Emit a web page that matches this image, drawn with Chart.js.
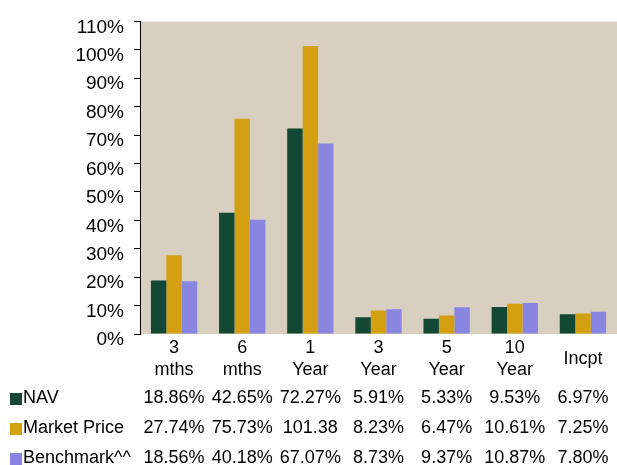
<!DOCTYPE html>
<html lang="en">
<head>
    <meta charset="UTF-8">
    <title>Performance</title>
    <script src="https://cdn.jsdelivr.net/npm/chart.js"></script>
    <style>
        body {
            margin: 0;
            background: #fff;
        }
        #wrap {
            width: 617px;
            height: 465px;
        }
    </style>
</head>
<body>
    <div id="wrap"><canvas id="perfChart" width="617" height="465"></canvas></div>
    <script>
        const periods = [['3', 'mths'], ['6', 'mths'], ['1', 'Year'], ['3', 'Year'], ['5', 'Year'], ['10', 'Year'], 'Incpt'];
        const seriesNames = ['NAV', 'Market Price', 'Benchmark^^'];
        const nav = [18.86, 42.65, 72.27, 5.91, 5.33, 9.53, 6.97];
        const marketPrice = [27.74, 75.73, 101.38, 8.23, 6.47, 10.61, 7.25];
        const benchmark = [18.56, 40.18, 67.07, 8.73, 9.37, 10.87, 7.80];
        const yTicks = [0, 10, 20, 30, 40, 50, 60, 70, 80, 90, 100, 110];

        const colors = ['#134834', '#D4A012', '#8886E0'];
        const FONT = 'Arial, "Liberation Sans", sans-serif';

        // tan plot background
        const plotBg = {
            id: 'plotBg',
            beforeDraw(chart) {
                const a = chart.chartArea;
                const ctx = chart.ctx;
                ctx.save();
                ctx.fillStyle = '#D9CFC1';
                ctx.fillRect(a.left, a.top, a.right - a.left, a.bottom - a.top);
                ctx.restore();
            }
        };

        // data table under the x axis, with legend swatches
        const dataTable = {
            id: 'dataTable',
            afterDraw(chart) {
                const ctx = chart.ctx;
                const x = chart.scales.x;
                const rowsY = [398, 428, 458];
                ctx.save();
                ctx.font = '18px ' + FONT;
                ctx.textBaseline = 'middle';
                chart.data.datasets.forEach((ds, i) => {
                    const y = rowsY[i];
                    ctx.fillStyle = ds.backgroundColor;
                    ctx.fillRect(10, y - 5, 12, 12);
                    ctx.fillStyle = '#000';
                    ctx.textAlign = 'left';
                    ctx.fillText(ds.label, 23, y);
                    const colW = x.getPixelForValue(1) - x.getPixelForValue(0);
                    ds.data.forEach((v, j) => {
                        let txt = v.toFixed(2) + '%';
                        if (ctx.measureText(txt).width > colW - 2) txt = v.toFixed(2);
                        ctx.textAlign = 'center';
                        ctx.fillText(txt, x.getPixelForValue(j), y);
                    });
                });
                ctx.restore();
            }
        };

        const ctx = document.getElementById('perfChart').getContext('2d');
        new Chart(ctx, {
            type: 'bar',
            data: {
                labels: periods,
                datasets: [
                    { label: seriesNames[0], data: nav, backgroundColor: colors[0] },
                    { label: seriesNames[1], data: marketPrice, backgroundColor: colors[1] },
                    { label: seriesNames[2], data: benchmark, backgroundColor: colors[2] }
                ]
            },
            options: {
                responsive: false,
                animation: false,
                layout: { padding: { top: 20, right: 0, left: 0, bottom: 0 } },
                datasets: {
                    bar: { categoryPercentage: 0.68, barPercentage: 1.0 }
                },
                plugins: {
                    legend: { display: false },
                    tooltip: { enabled: false }
                },
                scales: {
                    x: {
                        grid: { display: false, drawTicks: false },
                        border: { display: false },
                        ticks: {
                            color: '#000',
                            font: { family: FONT, size: 18 },
                            maxRotation: 0,
                            autoSkip: false,
                            crossAlign: 'center',
                            padding: 14
                        },
                        afterFit(scale) { scale.height = 131; }
                    },
                    y: {
                        min: 0,
                        max: 110,
                        afterBuildTicks(scale) { scale.ticks = yTicks.map(v => ({ value: v })); },
                        grid: {
                            drawOnChartArea: false,
                            drawTicks: true,
                            tickLength: 6,
                            color: '#000'
                        },
                        border: { display: true, color: '#000', width: 1 },
                        ticks: {
                            color: '#000',
                            font: { family: FONT, size: 19 },
                            padding: 10,
                            labelOffset: 6,
                            callback: v => v + '%'
                        },
                        afterFit(scale) { scale.width = 140; }
                    }
                }
            },
            plugins: [plotBg, dataTable]
        });
    </script>
</body>
</html>
